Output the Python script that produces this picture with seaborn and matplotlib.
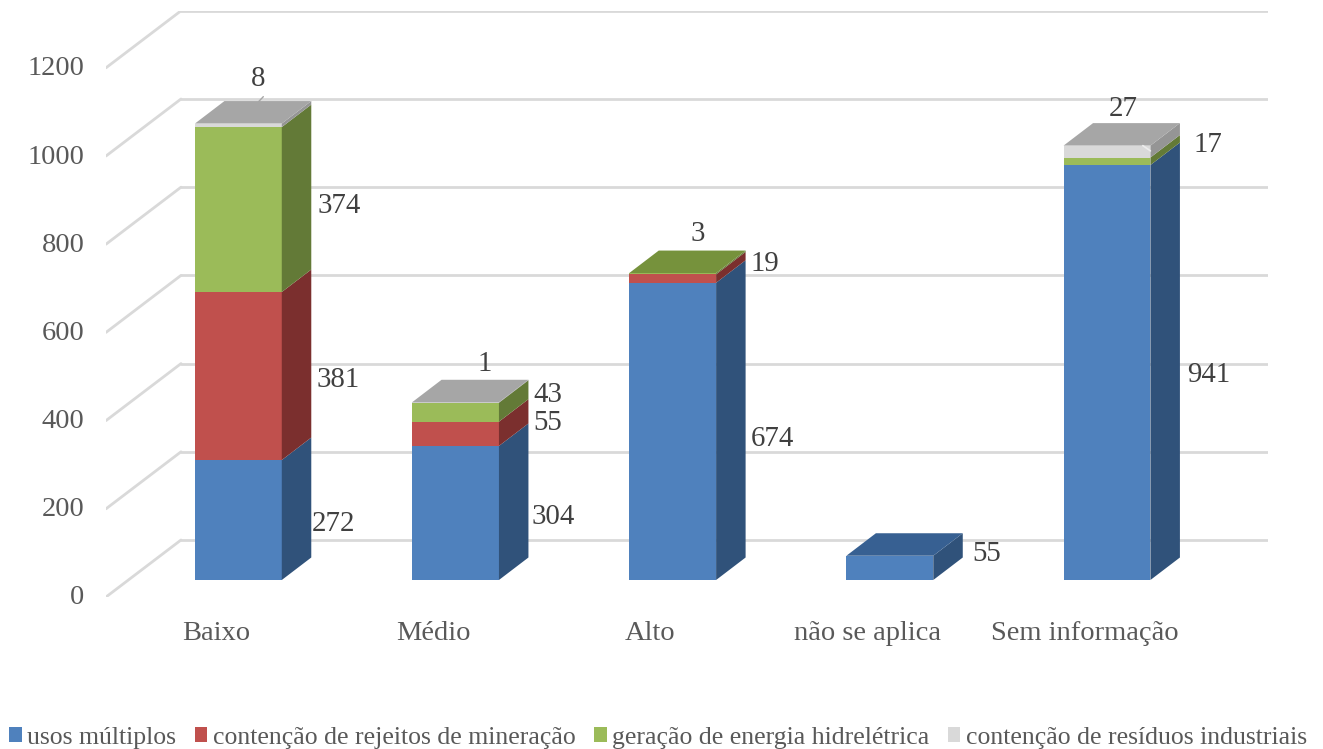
import numpy as np
import seaborn as sns
import matplotlib.pyplot as plt
from matplotlib.patches import Patch

categories = ["Baixo", "Médio", "Alto", "não se aplica", "Sem informação"]
series_names = [
    "usos múltiplos",
    "contenção de rejeitos de mineração",
    "geração de energia hidrelétrica",
    "contenção de resíduos industriais",
]
usos = [272, 304, 674, 55, 941]
rejeitos = [381, 55, 19, 0, 0]
geracao = [374, 43, 3, 0, 17]
residuos = [8, 1, 0, 0, 27]
y_ticks = [0, 200, 400, 600, 800, 1000, 1200]

front_colors = ["#4F81BD", "#C0504D", "#9BBB59", "#D9D9D9"]
side_colors = ["#30527A", "#7B2F2E", "#637A37", "#959595"]
top_colors = ["#376092", "#953735", "#76923C", "#A6A6A6"]

# label offsets in pixels from the middle of the side face, (bar, series): (dx, dy down)
label_offsets = {
    (0, 0): (22, 15), (0, 1): (27, 15), (0, 2): (28, 8), (0, 3): (-53, -35),
    (1, 0): (25, 15), (1, 1): (19, 0), (1, 2): (19, -6), (1, 3): (-44, -27),
    (2, 0): (27, 19), (2, 1): (19, -3), (2, 2): (-48, -28),
    (3, 0): (24, -3),
    (4, 0): (29, 14), (4, 2): (28, -5), (4, 3): (-57, -31),
}

# pixel geometry of the fake 3D box
PX_PER_CAT = 217.16
PX_PER_UNIT = 0.441
BAR_WIDTH = 0.4
DEPTH_X = 29.5 / PX_PER_CAT
DEPTH_Y = 22.5 / PX_PER_UNIT
WALL_X = 75 / PX_PER_CAT
WALL_BACK = 40 / PX_PER_UNIT
WALL_FRONT = -17 / PX_PER_UNIT

sns.set_theme(style="white")
plt.rcParams["font.family"] = ["Liberation Serif", "DejaVu Serif"]

fig = plt.figure(figsize=(13.23, 7.49), dpi=100)
ax = fig.add_axes([106 / 1323, (749 - 597) / 749, 1162 / 1323, 586 / 749])

x_left = (106 - 238.35) / PX_PER_CAT
x_right = (1268 - 238.35) / PX_PER_CAT
grid_color = "#D9D9D9"

# back wall and side wall lines
for tick in y_ticks:
    ax.plot([x_left + WALL_X, x_right], [tick + WALL_BACK] * 2, color=grid_color, lw=2, zorder=1)
    ax.plot([x_left, x_left + WALL_X], [tick + WALL_FRONT, tick + WALL_BACK], color=grid_color, lw=2, zorder=1)

all_series = [usos, rejeitos, geracao, residuos]
bottoms = np.zeros(len(categories))
for values, color in zip(all_series, front_colors):
    sns.barplot(x=categories, y=values, bottom=bottoms, color=color, width=BAR_WIDTH,
                saturation=1, linewidth=0, ax=ax, zorder=3)
    bottoms = bottoms + np.array(values)

# side faces and top faces
bottoms = np.zeros(len(categories))
for s, values in enumerate(all_series):
    for i, v in enumerate(values):
        if v == 0:
            continue
        x0 = i + BAR_WIDTH / 2
        y0 = bottoms[i]
        y1 = y0 + v
        ax.fill([x0, x0 + DEPTH_X, x0 + DEPTH_X, x0],
                [y0, y0 + DEPTH_Y, y1 + DEPTH_Y, y1],
                color=side_colors[s], lw=0, zorder=3)
        if y1 == sum(series[i] for series in all_series):
            xl = i - BAR_WIDTH / 2
            ax.fill([xl, x0, x0 + DEPTH_X, xl + DEPTH_X],
                    [y1, y1, y1 + DEPTH_Y, y1 + DEPTH_Y],
                    color=top_colors[s], lw=0, zorder=3)
        dx, dy = label_offsets[(i, s)]
        ax.annotate(str(v), xy=(x0 + DEPTH_X, y0 + v / 2 + DEPTH_Y / 2),
                    xytext=(dx * 0.72, -dy * 0.72), textcoords="offset points",
                    ha="center", va="center", fontsize=20.8, color="#404040", zorder=5)
    bottoms = bottoms + np.array(values)

# small leader lines of the two top labels
top_8 = sum(series[0] for series in all_series)
ax.plot([0.092, 0.115], [top_8 + DEPTH_Y - 2, top_8 + DEPTH_Y + 10], color="#A6A6A6", lw=1, zorder=2)
top_27 = sum(series[4] for series in all_series)
ax.plot([4 + 0.165, 4 + 0.2], [top_27, top_27 - 12], color="#EDEDED", lw=1.2, zorder=4)

ax.set_xlim(x_left, x_right)
ax.set_ylim(-17 / PX_PER_UNIT, 569 / PX_PER_UNIT)
ax.set_xticks(np.arange(len(categories)) - 0.102, categories)
ax.set_yticks(np.array(y_ticks) + WALL_FRONT + 2 / PX_PER_UNIT, y_ticks)
ax.tick_params(axis="x", length=0, pad=17.5, labelsize=20.5, colors="#595959")
ax.tick_params(axis="y", length=0, pad=15.5, labelsize=20.5, colors="#595959")
ax.set_xlabel("")
ax.set_ylabel("")
ax.grid(False)
sns.despine(ax=ax, left=True, bottom=True)

handles = [Patch(facecolor=c, edgecolor="none") for c in front_colors]
fig.legend(handles, series_names, loc="lower left", bbox_to_anchor=(4 / 1323, -5 / 749), ncols=4,
           frameon=False, fontsize=18.5, labelcolor="#595959", handlelength=0.5, handleheight=0.5,
           handletextpad=0.2, columnspacing=0.72, borderpad=0.1, borderaxespad=0.1)

plt.savefig("out.png", dpi=100)
plt.close()
